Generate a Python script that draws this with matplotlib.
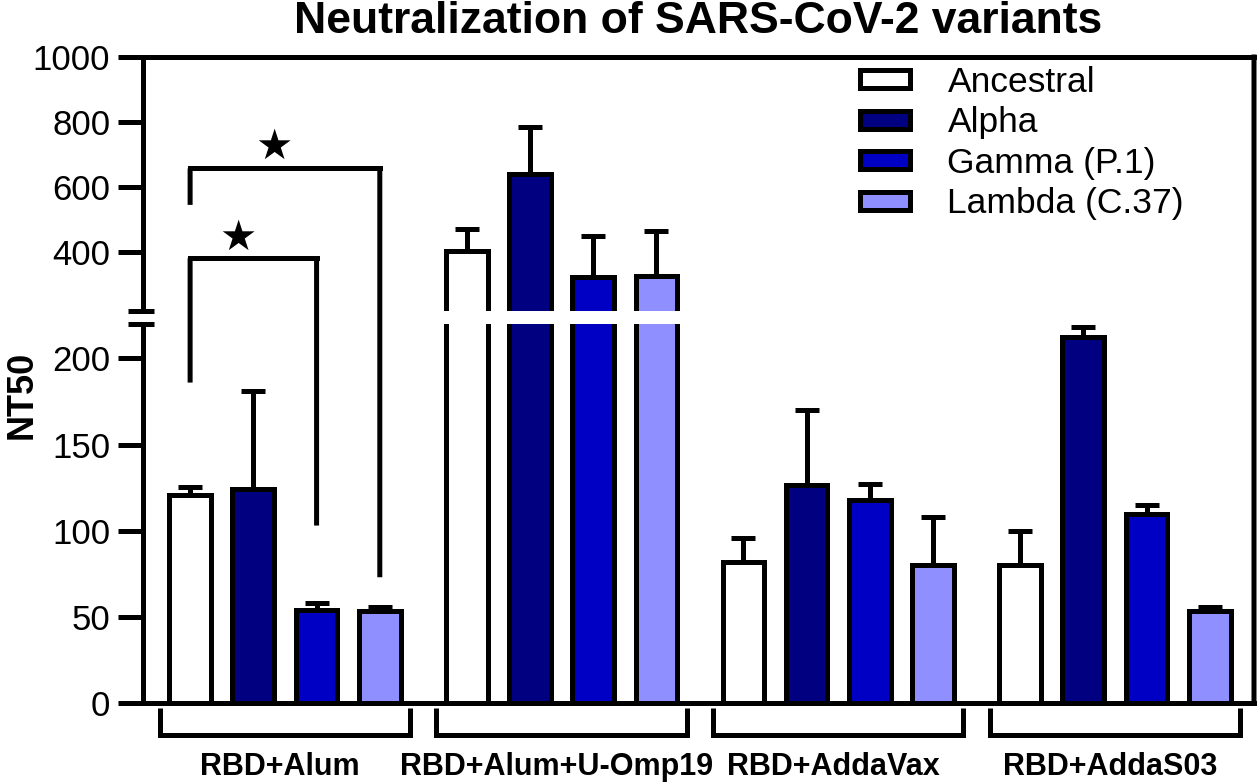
import numpy as np
import matplotlib
matplotlib.use("Agg")
import matplotlib.pyplot as plt
from matplotlib.patches import Patch, ConnectionPatch

plt.rcParams['font.family'] = ['Liberation Sans', 'DejaVu Sans']

# ---------------- data ----------------
groups = ['RBD+Alum', 'RBD+Alum+U-Omp19', 'RBD+AddaVax', 'RBD+AddaS03']
variants = ['Ancestral', 'Alpha', 'Gamma (P.1)', 'Lambda (C.37)']
colors = ['#FFFFFF', '#000080', '#0000C4', '#8F8FFF']

ancestral = [121, 402, 82, 80]
alpha = [124, 640, 126.5, 212.5]
gamma = [54, 322, 118, 110]
lambda_ = [53.5, 327, 80, 53.5]

ancestral_top = [125.5, 471, 96, 100]
alpha_top = [181, 785, 170, 218]
gamma_top = [58, 448, 127, 115]
lambda_top = [56, 465, 108, 56]

means = [ancestral, alpha, gamma, lambda_]
tops = [ancestral_top, alpha_top, gamma_top, lambda_top]

lower_ticks = [0, 50, 100, 150, 200]
upper_ticks = [400, 600, 800, 1000]
break_value = 220
y_max = 1000

# significance brackets (values in NT50 units)
sig_inner = dict(left=0, right=2, top=381, left_end=186, right_end=103)
sig_outer = dict(left=0, right=3, top=657, left_end=545, right_end=73)
star_inner = (443, -0.75)
star_outer = (723, -0.17)

# ---------------- layout ----------------
W, H, DPI = 1260, 784, 100
fig = plt.figure(figsize=(W / DPI, H / DPI), dpi=DPI)
L, R = 143 / W, 1254 / W
ax_top = fig.add_axes([L, 1 - 310.5 / H, R - L, (310.5 - 57) / H])
ax_bot = fig.add_axes([L, 1 - 703 / H, R - L, (703 - 324) / H])

LW = 3.6
group_gap = 4.375
bar_w = 0.66
ngroups = len(groups)
centers = np.arange(ngroups) * group_gap
offsets = np.arange(len(variants)) - 1.5

for ax, lo in ((ax_top, break_value), (ax_bot, -1)):
    for i, (m, t) in enumerate(zip(means, tops)):
        x = centers + offsets[i]
        m = np.array(m, float)
        t = np.array(t, float)
        keep = t > lo
        ax.errorbar(x[keep], m[keep], yerr=[np.zeros(keep.sum()), (t - m)[keep]],
                    fmt='none', ecolor='black', elinewidth=LW, capsize=8.3,
                    capthick=LW, zorder=2)
        ax.bar(x, m, width=bar_w, color=colors[i], edgecolor='black', linewidth=LW, zorder=3)
    ax.set_xlim(-2.245, centers[-1] + 2.2)
    ax.set_xticks([])
    for s in ax.spines.values():
        s.set_linewidth(LW)
        s.set_capstyle('projecting')
    ax.spines['right'].set_visible(False)
    ax.tick_params(axis='y', direction='out', length=18, width=LW, pad=5.5, labelsize=25)

ax_top.set_ylim(break_value, y_max)
ax_bot.set_ylim(0, break_value)
ax_top.set_yticks(upper_ticks)
ax_bot.set_yticks(lower_ticks)
ax_top.spines['bottom'].set_visible(False)
ax_bot.spines['top'].set_visible(False)

# break marks on left axis
for ax, yy in ((ax_top, 0), (ax_bot, 1)):
    ax.plot([-0.0135, 0.0099], [yy, yy], transform=ax.transAxes, color='black',
            lw=LW, clip_on=False, solid_capstyle='butt')

# continuous right frame line, top to bottom
fig.add_artist(ConnectionPatch(xyA=(1, 1), coordsA=ax_top.transAxes,
                               xyB=(1, 0), coordsB=ax_bot.transAxes,
                               color='black', lw=LW, capstyle='projecting', zorder=10))

# group brackets and labels under the x axis
for c, g in zip(centers, groups):
    ax_bot.plot([c - 1.98, c - 1.98, c + 1.98, c + 1.98], [-3, -18.3, -18.3, -3],
                color='black', lw=LW, clip_on=False, solid_joinstyle='miter',
                solid_capstyle='butt')
    ax_bot.text(c - 0.08, -41.8, g, ha='center', va='baseline', fontsize=22,
                fontweight='bold', clip_on=False)

# significance brackets
def sig_bracket(sig):
    xl = centers[0] + offsets[sig['left']]
    xr = centers[0] + offsets[sig['right']]
    ax_top.plot([xl, xr], [sig['top'], sig['top']], color='black', lw=LW,
                solid_capstyle='projecting', zorder=5)
    for x, end in ((xl, sig['left_end']), (xr, sig['right_end'])):
        target = ax_top if end > break_value else ax_bot
        fig.add_artist(ConnectionPatch(xyA=(x, sig['top']), coordsA=ax_top.transData,
                                       xyB=(x, end), coordsB=target.transData,
                                       color='black', lw=LW, capstyle='butt'))

sig_bracket(sig_inner)
sig_bracket(sig_outer)
for yv, xv in (star_inner, star_outer):
    ax_top.text(xv, yv, '\u2605', ha='center', va='center', fontsize=30,
                family=['DejaVu Sans'], zorder=6)

# legend
handles = [Patch(facecolor=c, edgecolor='black', linewidth=LW) for c in colors]
fig.legend(handles, variants, loc='upper left', bbox_to_anchor=(860 / W, 1 - 66 / H),
           frameon=False, borderpad=0, borderaxespad=0, fontsize=25.5,
           handlelength=1.41, handleheight=0.4, handletextpad=1.06, labelspacing=0.21)

# title and y label
fig.text(698 / W, 1 - 33 / H, 'Neutralization of SARS-CoV-2 variants', ha='center',
         va='baseline', fontsize=32, fontweight='bold')
fig.text(22 / W, 1 - 395 / H, 'NT50', rotation=90, ha='center', va='center',
         fontsize=26, fontweight='bold')

fig.savefig('out.png', dpi=DPI)
